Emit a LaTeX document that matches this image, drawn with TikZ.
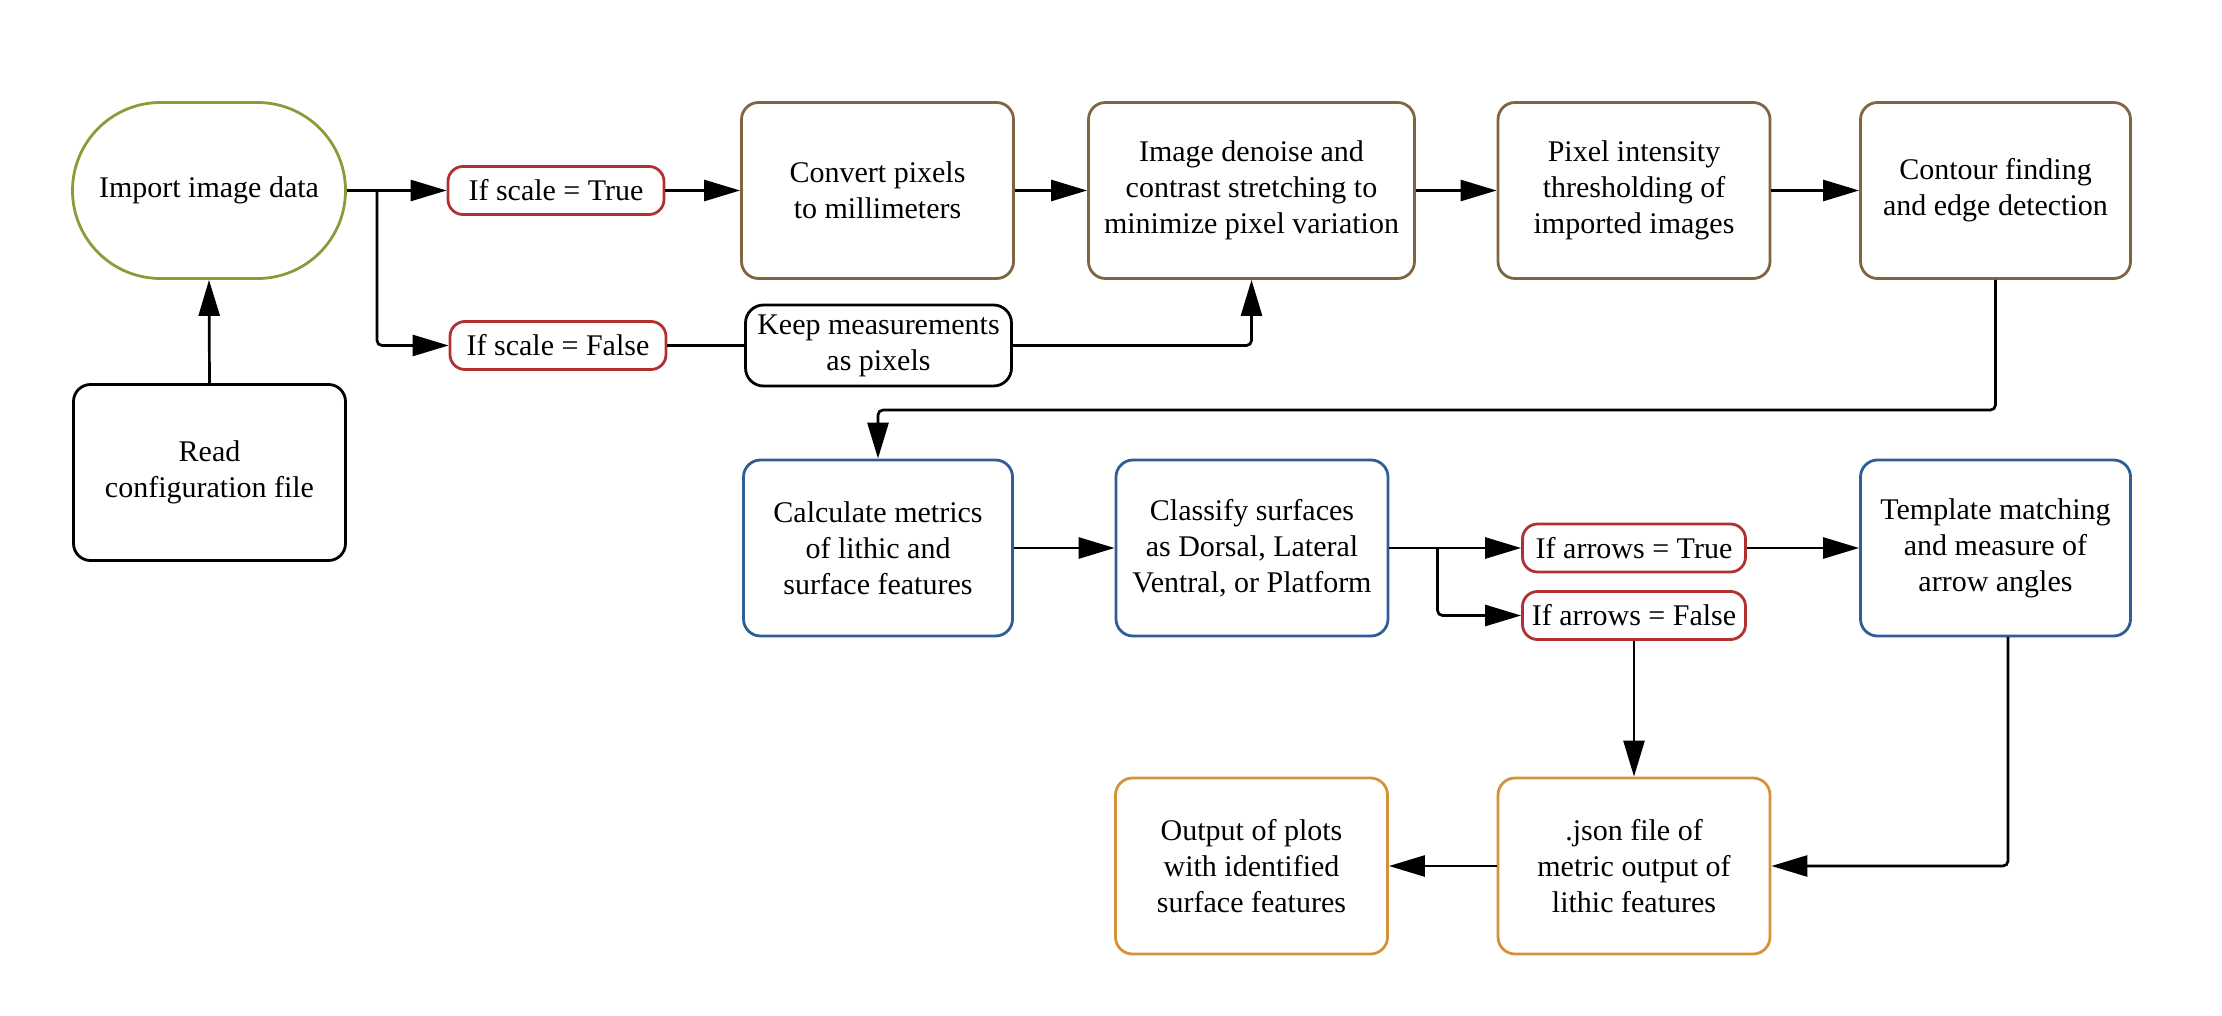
\documentclass[tikz,border=0pt]{standalone}
\usepackage{fontspec}
\setmainfont{Liberation Serif}
\usetikzlibrary{arrows.meta}
\definecolor{cgreen}{HTML}{8C9A3A}
\definecolor{cbrown}{HTML}{7F6540}
\definecolor{cred}{HTML}{B0312F}
\definecolor{cblue}{HTML}{2F5E97}
\definecolor{corange}{HTML}{D5923A}
\begin{document}
\begin{tikzpicture}[x=1pt,y=-1pt,
  box/.style={draw, line width=2.8pt, rounded corners=17pt, align=center, inner sep=0pt,
    minimum width=272pt, minimum height=176pt, font=\fontsize{30}{36}\selectfont},
  cond/.style={draw=cred, line width=2.8pt, rounded corners=15pt, align=center, inner sep=0pt,
    minimum height=48pt, font=\fontsize{30}{36}\selectfont},
  conn/.style={line width=2.7pt, rounded corners=5pt},
  arr/.style={conn, -{Triangle[length=36pt,width=21pt]}}]
\useasboundingbox (0,0) rectangle (2222,1016);

% row 1
\node[box, draw=cgreen, rounded corners=88pt, minimum width=273pt] (imp) at (209,190.5) {\raisebox{-4pt}{Import image data}};
\node[box, draw=black] (read) at (209.5,472.5) {Read\\configuration file};
\node[cond, minimum width=216pt] (stT) at (556,190.5) {If scale = True};
\node[cond, minimum width=216pt] (stF) at (558,345.5) {If scale = False};
\node[box, draw=cbrown] (conv) at (877.5,190.5) {Convert pixels\\to millimeters};
\node[box, draw=black, minimum width=266pt, minimum height=81pt, rounded corners=18pt] (keep) at (878.5,345.5) {Keep measurements\\as pixels};
\node[box, draw=cbrown, minimum width=326pt] (den) at (1251.5,190.5) {Image denoise and\\contrast stretching to\\minimize pixel variation};
\node[box, draw=cbrown] (pix) at (1634,190.5) {Pixel intensity\\thresholding of\\imported images};
\node[box, draw=cbrown, minimum width=270pt] (cont) at (1995.5,190.5) {Contour finding\\and edge detection};

% row 2
\node[box, draw=cblue, minimum width=269pt] (calc) at (878,548) {Calculate metrics\\of lithic and\\surface features};
\node[box, draw=cblue] (cls) at (1252,548) {Classify surfaces\\as Dorsal, Lateral\\Ventral, or Platform};
\node[cond, minimum width=223pt] (aT) at (1634,548) {If arrows = True};
\node[cond, minimum width=223pt] (aF) at (1634,615.5) {If arrows = False};
\node[box, draw=cblue, minimum width=270pt] (tmpl) at (1995.5,548) {Template matching\\and measure of\\arrow angles};

% row 3
\node[box, draw=corange] (json) at (1634,866) {.json file of\\metric output of\\lithic features};
\node[box, draw=corange] (outp) at (1251.5,866) {Output of plots\\with identified\\surface features};

% connectors
\draw[arr] (read.north) -- (imp.south);
\draw[arr] (imp.east) -- (stT.west);
\coordinate (b1) at (377,190.5);
\draw[arr] (b1) |- (stF.west);
\draw[arr] (stT.east) -- (conv.west);
\draw[conn] (stF.east) -- (keep.west);
\draw[arr] (keep.east) -| (den.south);
\draw[arr] (conv.east) -- (den.west);
\draw[arr] (den.east) -- (pix.west);
\draw[arr] (pix.east) -- (cont.west);
\coordinate (j1) at (1995.5,410);
\draw[arr] (cont.south) -- (j1) -| (calc.north);
\draw[arr] (calc.east) -- (cls.west);
\draw[arr] (cls.east) -- (aT.west);
\coordinate (b2) at (1437.5,548);
\draw[arr] (b2) |- (aF.west);
\draw[arr] (aT.east) -- (tmpl.west);
\draw[arr] (aF.south) -- (json.north);
\coordinate (t1) at (2008,637);
\draw[arr] (t1) |- (json.east);
\draw[arr] (json.west) -- (outp.east);
\end{tikzpicture}
\end{document}
